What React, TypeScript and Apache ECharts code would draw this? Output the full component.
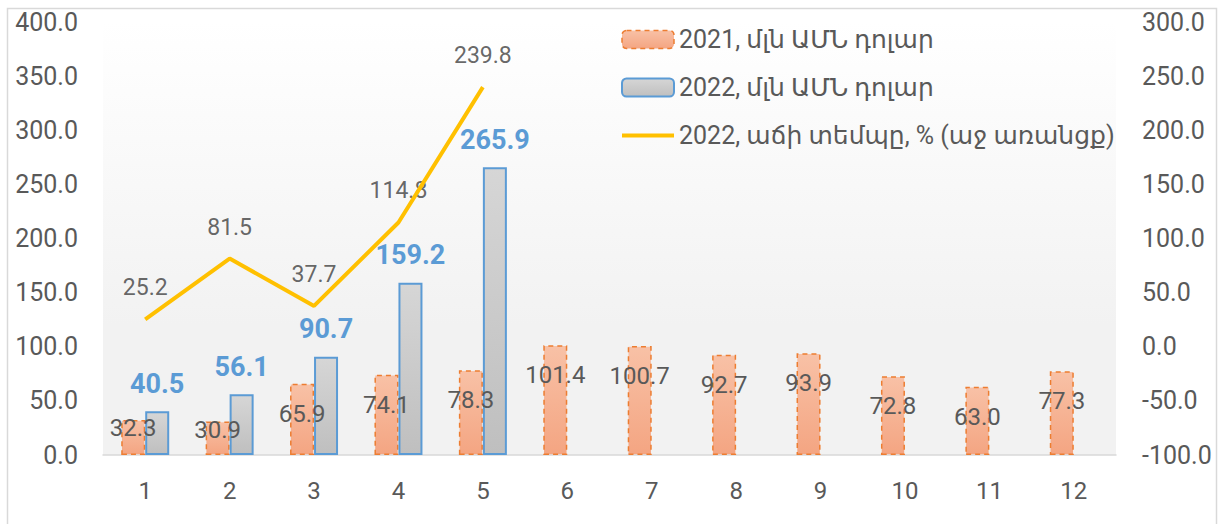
import React, { useEffect, useRef } from "react";
import * as echarts from "echarts";

const months = ["1", "2", "3", "4", "5", "6", "7", "8", "9", "10", "11", "12"];
const values2021 = [32.3, 30.9, 65.9, 74.1, 78.3, 101.4, 100.7, 92.7, 93.9, 72.8, 63.0, 77.3];
const values2022 = [40.5, 56.1, 90.7, 159.2, 265.9];
const growth2022 = [25.2, 81.5, 37.7, 114.8, 239.8];
const seriesNames = ["2021, մլն ԱՄՆ դոլար", "2022, մլն ԱՄՆ դոլար", "2022, աճի տեմպը, % (աջ առանցք)"];

const FONT = "Roboto, 'Noto Sans', 'DejaVu Sans', sans-serif";

export default function App() {
  const ref = useRef<HTMLDivElement>(null);
  useEffect(() => {
    if (!ref.current) return;
    const chart = echarts.init(ref.current, null, { renderer: "svg" });
    const fmt = (v: number) => Number(v).toFixed(1);
    chart.setOption({
      animation: false,
      backgroundColor: "#ffffff",
      textStyle: { fontFamily: FONT },
      graphic: [
        {
          type: "rect",
          shape: { x: 7.5, y: 8.5, width: 1209, height: 600 },
          style: { fill: "none", stroke: "#d9d9d9", lineWidth: 1.5 },
          silent: true,
          z: 100,
        },
      ],
      grid: {
        left: 103,
        right: 105,
        top: 22,
        bottom: 69,
        show: true,
        borderWidth: 0,
        backgroundColor: new echarts.graphic.LinearGradient(0, 0, 0, 1, [
          { offset: 0, color: "#ffffff" },
          { offset: 0.7, color: "#f2f2f2" },
          { offset: 1, color: "#f2f2f2" },
        ]),
      },
      legend: {
        orient: "vertical",
        left: 620,
        top: 27,
        padding: 0,
        itemWidth: 52,
        itemHeight: 18,
        itemGap: 23,
        textStyle: { fontSize: 25, color: "#595959", fontFamily: FONT },
        data: [
          { name: seriesNames[0], itemStyle: { borderType: [5, 4], borderColor: "#ed7d31", borderWidth: 1.5 } },
          { name: seriesNames[1] },
          {
            name: seriesNames[2],
            itemStyle: { color: "rgba(0,0,0,0)", borderWidth: 0, opacity: 0 },
            lineStyle: { width: 4, color: "#ffc000" },
          },
        ],
      },
      xAxis: {
        type: "category",
        data: months,
        axisLine: { lineStyle: { color: "#d9d9d9", width: 1.5 } },
        axisTick: { show: false },
        axisLabel: { fontSize: 24, color: "#595959", margin: 24 },
      },
      yAxis: [
        {
          type: "value",
          min: 0,
          max: 400,
          interval: 50,
          splitLine: { show: false },
          axisLine: { show: false },
          axisLabel: { fontSize: 25, color: "#595959", margin: 25, formatter: fmt },
        },
        {
          type: "value",
          min: -100,
          max: 300,
          interval: 50,
          splitLine: { show: false },
          axisLine: { show: false },
          axisLabel: { fontSize: 25, color: "#595959", margin: 26, formatter: fmt },
        },
      ],
      series: [
        {
          name: seriesNames[0],
          type: "bar",
          barWidth: 24,
          barGap: "0%",
          data: values2021.map((v) => ({
            value: v,
            label: v < 50 ? { distance: -4 } : undefined,
          })),
          itemStyle: {
            color: new echarts.graphic.LinearGradient(0, 0, 0, 1, [
              { offset: 0, color: "#f8c1a6" },
              { offset: 1, color: "#f4a582" },
            ]),
            borderColor: "#ed7d31",
            borderWidth: 1.5,
            borderType: [5, 4],
          },
          label: {
            show: true,
            position: "insideTop",
            distance: 18,
            fontSize: 24,
            color: "#595959",
            formatter: (p: any) => fmt(p.value),
          },
        },
        {
          name: seriesNames[1],
          type: "bar",
          barWidth: 24,
          barGap: "0%",
          data: values2022,
          itemStyle: {
            color: new echarts.graphic.LinearGradient(0, 0, 0, 1, [
              { offset: 0, color: "#d6d6d6" },
              { offset: 1, color: "#bfbfbf" },
            ]),
            borderColor: "#5b9bd5",
            borderWidth: 2,
          },
          label: {
            show: true,
            position: "top",
            distance: 14,
            fontSize: 27,
            fontWeight: "bold",
            color: "#5b9bd5",
            formatter: (p: any) => fmt(p.value),
          },
        },
        {
          name: seriesNames[2],
          type: "line",
          yAxisIndex: 1,
          data: growth2022,
          symbol: "none",
          lineStyle: { color: "#ffc000", width: 4 },
          itemStyle: { color: "#ffc000" },
        },
        {
          name: "growthLabels",
          type: "scatter",
          yAxisIndex: 1,
          data: growth2022,
          symbolSize: 0,
          itemStyle: { color: "#ffc000" },
          label: {
            show: true,
            position: "top",
            distance: 20,
            fontSize: 23,
            color: "#404040",
            formatter: (p: any) => fmt(p.value),
          },
        },
      ],
    });
    return () => chart.dispose();
  }, []);
  return (
    <div
      ref={ref}
      style={{ position: "absolute", left: 0, top: 0, width: 1221, height: 524 }}
    />
  );
}
